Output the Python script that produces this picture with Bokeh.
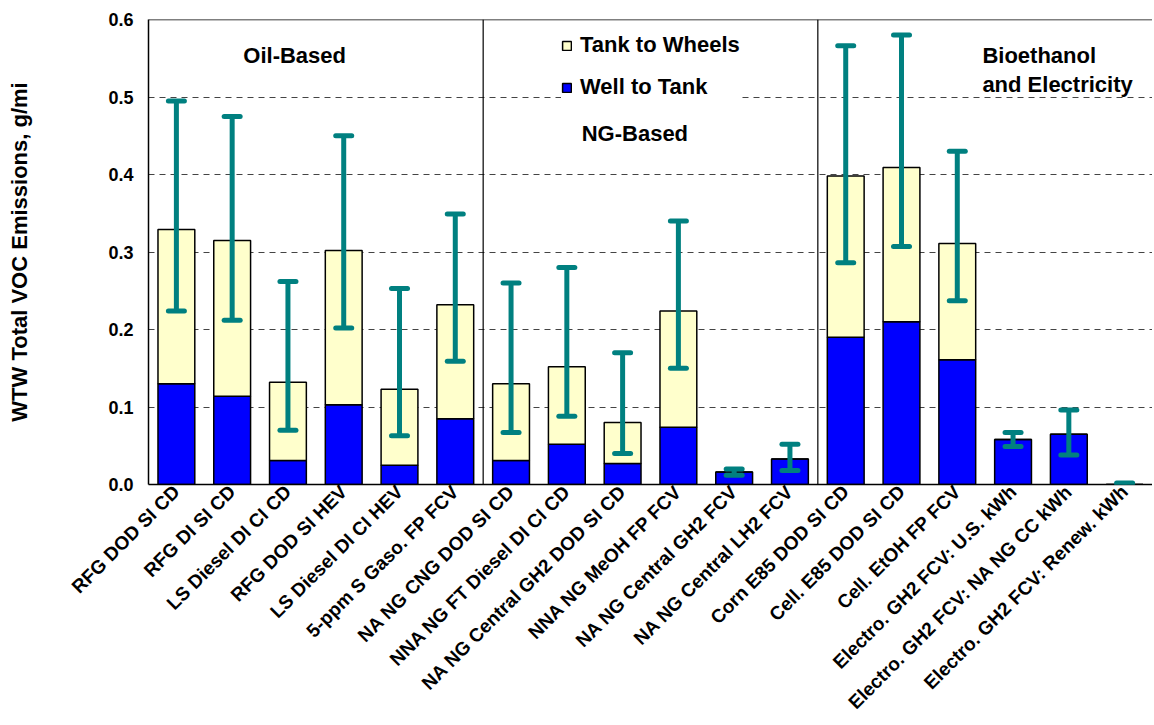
from math import pi
from bokeh.plotting import figure
from bokeh.models import (FactorRange, Range1d, Whisker, TeeHead, ColumnDataSource,
                          Span, Label, Legend, LegendItem, FixedTicker, CustomJSTickFormatter)
from bokeh.embed import file_html
from bokeh.resources import INLINE

categories = [
    "RFG DOD SI CD", "RFG DI SI CD", "LS Diesel DI CI CD", "RFG DOD SI HEV",
    "LS Diesel DI CI HEV", "5-ppm S Gaso. FP FCV", "NA NG CNG DOD SI CD",
    "NNA NG FT Diesel DI CI CD", "NA NG Central GH2 DOD SI CD", "NNA NG MeOH FP FCV",
    "NA NG Central GH2 FCV", "NA NG Central LH2 FCV", "Corn E85 DOD SI CD",
    "Cell. E85 DOD SI CD", "Cell. EtOH FP FCV", "Electro. GH2 FCV: U.S. kWh",
    "Electro. GH2 FCV: NA NG CC kWh", "Electro. GH2 FCV: Renew. kWh",
]
well_to_tank = [0.130, 0.114, 0.031, 0.103, 0.025, 0.085, 0.031, 0.052, 0.027,
                0.074, 0.016, 0.033, 0.190, 0.210, 0.161, 0.058, 0.065, 0.000]
tank_to_wheels = [0.199, 0.201, 0.101, 0.199, 0.098, 0.147, 0.099, 0.100, 0.053,
                  0.150, 0.000, 0.000, 0.208, 0.199, 0.150, 0.000, 0.000, 0.000]
err_upper = [0.495, 0.475, 0.262, 0.450, 0.253, 0.349, 0.260, 0.280, 0.170,
             0.340, 0.020, 0.052, 0.566, 0.580, 0.430, 0.067, 0.096, 0.002]
err_lower = [0.224, 0.212, 0.070, 0.202, 0.063, 0.159, 0.067, 0.088, 0.040,
             0.150, 0.012, 0.018, 0.286, 0.307, 0.237, 0.049, 0.038, 0.000]
y_ticks = [0.0, 0.1, 0.2, 0.3, 0.4, 0.5, 0.6]
group_dividers = [6, 12]

FONT = "Liberation Sans"
TEAL = "#008080"

src = ColumnDataSource(dict(cat=categories, wtt=well_to_tank, ttw=tank_to_wheels,
                            upper=err_upper, lower=err_lower))

p = figure(x_range=FactorRange(*categories, range_padding=0), y_range=Range1d(0, 0.6),
           width=1152, height=723, output_backend="svg", toolbar_location=None,
           min_border_left=148, min_border_right=0, min_border_top=19, min_border_bottom=225)
p.outline_line_color = None
p.background_fill_color = "white"

# grid
p.xgrid.grid_line_color = None
p.ygrid.ticker = FixedTicker(ticks=[0.1, 0.2, 0.3, 0.4, 0.5])
p.ygrid.grid_line_color = "#444444"
p.ygrid.grid_line_dash = "6 5"
p.ygrid.grid_line_width = 1

# y axis
p.yaxis.ticker = FixedTicker(ticks=y_ticks)
p.yaxis.formatter = CustomJSTickFormatter(code="return tick.toFixed(1);")
p.yaxis.major_label_text_font = FONT
p.yaxis.major_label_text_font_style = "bold"
p.yaxis.major_label_text_font_size = "18px"
p.yaxis.major_label_text_color = "black"
p.yaxis.major_tick_out = 0
p.yaxis.major_tick_in = 0
p.yaxis.minor_tick_line_color = None
p.yaxis.axis_line_color = "black"
p.yaxis.axis_line_width = 1.5
p.yaxis.major_label_standoff = 15
p.yaxis.axis_label = "WTW Total VOC Emissions, g/mi"
p.yaxis.axis_label_text_font = FONT
p.yaxis.axis_label_text_font_style = "bold"
p.yaxis.axis_label_text_font_size = "22px"
p.yaxis.axis_label_text_color = "black"
p.yaxis.axis_label_standoff = 73

# x axis
p.xaxis.major_label_orientation = pi / 4
p.xaxis.major_label_text_font = FONT
p.xaxis.major_label_text_font_style = "bold"
p.xaxis.major_label_text_font_size = "19px"
p.xaxis.major_label_text_color = "black"
p.xaxis.major_tick_out = 0
p.xaxis.major_tick_in = 0
p.xaxis.axis_line_color = "black"
p.xaxis.axis_line_width = 1.5
p.xaxis.major_label_standoff = 4

# top border and group dividers
p.add_layout(Span(location=0.6, dimension="width", line_color="black", line_width=1.5))
for d in group_dividers:
    p.add_layout(Span(location=d, dimension="height", line_color="black", line_width=1.2))

rs = p.vbar_stack(["wtt", "ttw"], x="cat", width=0.66, source=src,
                  fill_color=["#0000FF", "#FFFFCC"], line_color="black", line_width=1.5)

whisk = Whisker(source=src, base="cat", upper="upper", lower="lower", dimension="height",
                line_color=TEAL, line_width=5, level="overlay",
                upper_head=TeeHead(size=16, line_color=TEAL, line_width=5, line_cap="round"),
                lower_head=TeeHead(size=16, line_color=TEAL, line_width=5, line_cap="round"))
p.add_layout(whisk)

legend = Legend(items=[LegendItem(label="Tank to Wheels", renderers=[rs[1]]),
                       LegendItem(label="Well to Tank", renderers=[rs[0]])],
                location=(413, 384), orientation="vertical",
                label_text_font=FONT, label_text_font_style="bold",
                label_text_font_size="22px", label_text_color="black",
                glyph_width=11, glyph_height=11, label_height=26, spacing=16,
                padding=10, margin=0, label_standoff=8,
                border_line_color=None, background_fill_color="white",
                background_fill_alpha=1.0)
p.add_layout(legend)

def txt(x, y, s, align):
    p.add_layout(Label(x=x, y=y, text=s, text_font=FONT, text_font_style="bold",
                       text_font_size="22px", text_color="black", text_align=align,
                       text_baseline="alphabetic"))

txt(2.62, 0.554, "Oil-Based", "center")
txt(8.72, 0.4535, "NG-Based", "center")
txt(14.95, 0.554, "Bioethanol", "left")
txt(14.95, 0.5165, "and Electricity", "left")

open("out.html", "w").write(file_html(p, INLINE))
